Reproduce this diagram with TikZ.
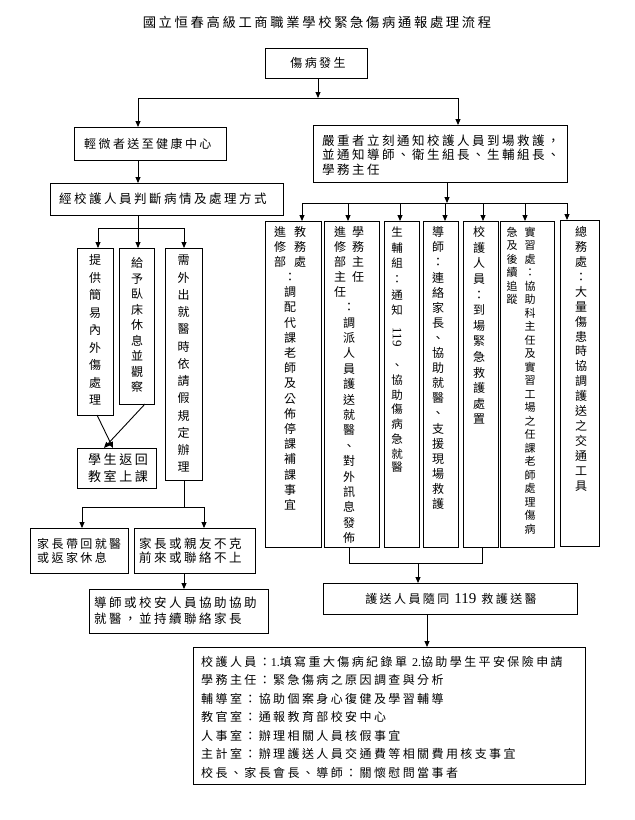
\documentclass[tikz,border=0pt]{standalone}
\usepackage{fontspec}
\usepackage{graphicx}
\setmainfont{Noto Sans CJK TC}
\newfontfamily\cjk{Noto Sans CJK TC}[LetterSpace=20]
\newfontfamily\lat{Liberation Serif}
\usetikzlibrary{arrows.meta}
\makeatletter
\def\vtEndMark{\vtEndMark}
\newcommand\vt[1]{\vt@a#1\vtEndMark}
\def\vt@a#1#2{\strut#1\ifx#2\vtEndMark\else\\\expandafter\vt@a\expandafter#2\fi}
\makeatother
\begin{document}
\begin{tikzpicture}[x=1pt,y=-1pt,
  bx/.style={draw, line width=0.9pt, inner sep=0pt, outer sep=0pt},
  ar/.style={-{Triangle[length=6pt,width=5pt]}, line width=0.9pt},
  ln/.style={line width=0.9pt},
  htx/.style 2 args={inner sep=0pt, font=\cjk\fontsize{#1}{#2}\selectfont},
  vtx/.style 2 args={anchor=north, align=center, inner sep=0pt, font=\fontsize{#1}{#2}\selectfont}]
\fill[white] (0,0) rectangle (635,820);
\useasboundingbox (0,0) rectangle (635,820);

% title
\node[htx={13.3}{16}] (title) at (317,22) {國立恒春高級工商職業學校緊急傷病通報處理流程};

% start
\node[bx, minimum width=102, minimum height=30] (start) at (316,63) {};
\node[htx={12}{15}] (start-t) at (318,63) {傷病發生};

\coordinate (j1) at (318,98);
\coordinate (jl) at (138,98);
\coordinate (jr) at (458,98);

% mild branch
\node[bx, minimum width=152, minimum height=33] (mild) at (150,143.5) {};
\node[htx={12}{15}, anchor=west] (mild-t) at (84,143.5) {輕微者送至健康中心};

% severe branch
\node[bx, minimum width=254, minimum height=57] (severe) at (440,153.5) {};
\node[htx={12.5}{14.7}, anchor=north west, align=left] (severe-t) at (322,134.5)
  {嚴重者立刻通知校護人員到場救護，\\並通知導師、衛生組長、生輔組長、\\學務主任};

\draw[ar] (start.south -| j1) -- (j1);
\draw[ln] (jl) -- (jr);
\draw[ar] (jl) -- (jl |- mild.north);
\draw[ar] (jr) -- (jr |- severe.north);

% judge
\node[bx, minimum width=233, minimum height=32] (judge) at (166.5,199) {};
\node[htx={12.5}{15}, anchor=west] (judge-t) at (59,199) {經校護人員判斷病情及處理方式};
\draw[ar] (mild.south -| jl) -- (judge.north -| jl);

% three left columns
\node[bx, minimum width=36, minimum height=167] (a1) at (95,331.5) {};
\node[vtx={12}{17.5}] (a1-t) at (95,252.3) {\vt{提供簡易內外傷處理}};
\node[bx, minimum width=35, minimum height=156] (a2) at (136.5,326) {};
\node[vtx={12}{15.5}] (a2-t) at (137,256.7) {\vt{給予臥床休息並觀察}};
\node[bx, minimum width=37, minimum height=232] (a3) at (183.5,364) {};
\node[vtx={12}{17.25}] (a3-t) at (183.5,252.5) {\vt{需外出就醫時依請假規定辦理}};

\coordinate (k1) at (138,228);
\coordinate (kl) at (98,228);
\coordinate (kr) at (184,228);
\draw[ln] (judge.south -| k1) -- (k1);
\draw[ln] (kl) -- (kr);
\draw[ar] (kl) -- (kl |- a1.north);
\draw[ar] (k1) -- (k1 |- a2.north);
\draw[ar] (kr) -- (kr |- a3.north);

% back to class
\node[bx, minimum width=79, minimum height=40] (back) at (116.5,468) {};
\node[htx={13}{17}, align=left] (back-t) at (118,468.5) {學生返回\\教室上課};
\draw[ar] ([xshift=2pt]a1.south) -- ([xshift=-3.5pt]back.north);
\draw[ar] ([xshift=8.5pt]a2.south) -- ([xshift=-12.5pt]back.north);

% parents
\node[bx, minimum width=98, minimum height=45] (p1) at (79,550.5) {};
\node[htx={12}{14}, anchor=west, align=left] (p1-t) at (37,550.5) {家長帶回就醫\\或返家休息};
\node[bx, minimum width=121, minimum height=45] (p2) at (194.5,550.5) {};
\node[htx={12.5}{14}, anchor=west, align=left] (p2-t) at (139,550.5) {家長或親友不克\\前來或聯絡不上};

\coordinate (m1) at (184,507);
\coordinate (ml) at (82,507);
\coordinate (mr) at (204,507);
\draw[ln] (a3.south -| m1) -- (m1);
\draw[ln] (ml) -- (mr);
\draw[ar] (ml) -- (ml |- p1.north);
\draw[ar] (mr) -- (mr |- p2.north);

% guide
\node[bx, minimum width=179, minimum height=44] (guide) at (178.5,611) {};
\node[htx={12.5}{16}, anchor=west, align=left] (guide-t) at (94,611) {導師或校安人員協助協助\\就醫，並持續聯絡家長};
\draw[ar] (p2.south -| m1) -- (guide.north -| m1);

% right columns
\coordinate (n1) at (447,203);
\coordinate (nl) at (302,203);
\coordinate (nr) at (567,203);
\draw[ar] (severe.south -| n1) -- (n1);
\draw[ln] (nl) -- (nr);

\node[bx, minimum width=56, minimum height=326] (c1) at (293,384) {};
\node[bx, minimum width=55, minimum height=326] (c2) at (351.5,384) {};
\node[bx, minimum width=35, minimum height=326] (c3) at (401.5,384) {};
\node[bx, minimum width=35, minimum height=326] (c4) at (440.5,384) {};
\node[bx, minimum width=35, minimum height=326] (c5) at (480.5,384) {};
\node[bx, minimum width=54, minimum height=326] (c6) at (527,384) {};
\node[bx, minimum width=39, minimum height=326] (c7) at (579.5,383) {};

\coordinate (d1) at (302,203);
\coordinate (d2) at (348,203);
\coordinate (d3) at (400,203);
\coordinate (d4) at (445,203);
\coordinate (d5) at (483,203);
\coordinate (d6) at (525,203);
\coordinate (d7) at (567,203);
\draw[ar] (d1) -- (d1 |- c1.north);
\draw[ar] (d2) -- (d2 |- c2.north);
\draw[ar] (d3) -- (d3 |- c3.north);
\draw[ar] (d4) -- (d4 |- c4.north);
\draw[ar] (d5) -- (d5 |- c5.north);
\draw[ar] (d6) -- (d6 |- c6.north);
\draw[ar] (d7) -- (d7 |- c7.north);

% column texts
\node[vtx={12}{15}] (c1-ta) at (300,226) {\vt{教務處}};
\node[vtx={12}{15}] (c1-tb) at (280,226) {\vt{進修部}};
\node[vtx={12}{15.2}] (c1-tc) at (290,270.6) {\vt{：調配代課老師及公佈停課補課事宜}};

\node[vtx={12}{15}] (c2-ta) at (358,226) {\vt{學務主任}};
\node[vtx={12}{15}] (c2-tb) at (340,226) {\vt{進修部主任}};
\node[vtx={12}{15.4}] (c2-tc) at (349,300.8) {\vt{：調派人員護送就醫、對外訊息發佈}};

\node[vtx={11.5}{15.6}] (c3-ta) at (397,225.5) {\vt{生輔組：通知}};
\node[inner sep=0pt, rotate=-90, font=\lat\fontsize{13}{13}\selectfont] (c3-tb) at (397,337) {119};
\node[vtx={11.5}{13.6}] (c3-tc) at (397,359.9) {\vt{、協助傷病急就醫}};

\node[vtx={12}{15.1}] (c4-t) at (438,226) {\vt{導師：連絡家長、協助就醫、支援現場救護}};
\node[vtx={12}{15.6}] (c5-t) at (479,225.6) {\vt{校護人員：到場緊急救護處置}};
\node[vtx={11}{13.5}] (c6-ta) at (530,226.7) {\vt{實習處：協助科主任及實習工場之任課老師處理傷病}};
\node[vtx={11}{13.5}] (c6-tb) at (512,226.7) {\vt{急及後續追蹤}};
\node[vtx={12}{14.9}] (c7-t) at (581,226.1) {\vt{總務處：大量傷患時協調護送之交通工具}};

% escort
\node[bx, minimum width=254, minimum height=31] (escort) at (450,598.5) {};
\node[htx={12}{15}] (escort-t) at (451,598.5) {護送人員隨同 {\lat\fontsize{15}{15}\selectfont 119} 救護送醫};

\coordinate (b1) at (349,563);
\coordinate (b2) at (482,563);
\coordinate (b3) at (418,563);
\draw[ln] (b1 |- c2.south) -- (b1) -- (b2) -- (b2 |- c5.south);
\draw[ar] (b3) -- (b3 |- escort.north);

% final
\node[bx, minimum width=392, minimum height=137] (final) at (389,715.5) {};
\node[htx={12}{18.5}, anchor=north west, align=left] (final-t) at (201,656) {%
校護人員：{\lat 1.}填寫重大傷病紀錄單 {\lat 2.}協助學生平安保險申請\\
學務主任：緊急傷病之原因調查與分析\\
輔導室：協助個案身心復健及學習輔導\\
教官室：通報教育部校安中心\\
人事室：辦理相關人員核假事宜\\
主計室：辦理護送人員交通費等相關費用核支事宜\\
校長、家長會長、導師：關懷慰問當事者};
\coordinate (e1) at (427,630);
\draw[ar] (escort.south -| e1) -- (final.north -| e1);
\end{tikzpicture}
\end{document}
